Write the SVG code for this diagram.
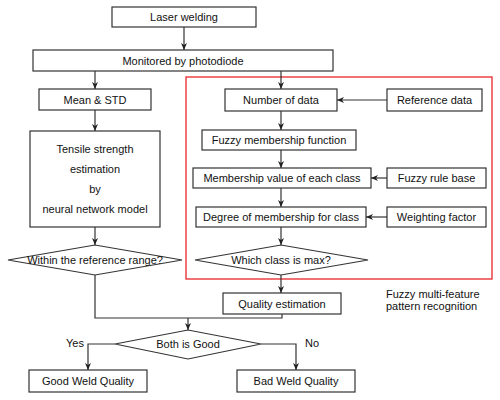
<svg xmlns="http://www.w3.org/2000/svg" width="500" height="400" viewBox="0 0 500 400">
<defs>
<marker id="ah" markerWidth="8" markerHeight="8" refX="7" refY="4" orient="auto" markerUnits="userSpaceOnUse">
<path d="M0,1 L7,4 L0,7 L2,4 Z" fill="#222"/>
</marker>
<style>
.b{fill:#fff;stroke:#333;stroke-width:1.2}
.t{font-family:"Liberation Sans",Arial,sans-serif;font-size:11px;fill:#111;text-anchor:middle}
.l{fill:none;stroke:#333;stroke-width:1.2}
.a{fill:none;stroke:#333;stroke-width:1.2;marker-end:url(#ah)}
</style>
</defs>
<rect width="500" height="400" fill="#fff"/>
<rect x="186" y="77" width="306" height="202" fill="none" stroke="#e8262a" stroke-width="1.3"/>
<g id="connectors">
<line class="a" x1="184" y1="27" x2="184" y2="50"/>
<line class="a" x1="95" y1="71" x2="95" y2="89"/>
<line class="a" x1="95" y1="110" x2="95" y2="131"/>
<line class="a" x1="95" y1="227" x2="95" y2="245"/>
<line class="a" x1="281" y1="71" x2="281" y2="89"/>
<line class="a" x1="387" y1="100" x2="337" y2="100"/>
<line class="a" x1="281" y1="111" x2="281" y2="130"/>
<line class="a" x1="281" y1="150" x2="281" y2="168"/>
<line class="a" x1="387" y1="178" x2="371" y2="178"/>
<line class="a" x1="281" y1="188" x2="281" y2="207"/>
<line class="a" x1="387" y1="217" x2="366" y2="217"/>
<line class="a" x1="281" y1="227" x2="281" y2="245"/>
<line class="a" x1="281" y1="275" x2="281" y2="293"/>
<polyline class="l" points="95,275 95,318 282,318 282,314"/>
<line class="a" x1="188" y1="318" x2="188" y2="330"/>
<polyline class="a" points="115,344 88,344 88,370"/>
<polyline class="a" points="261,344 296,344 296,370"/>
</g>
<g id="laser"><rect class="b" x="112" y="7" width="144" height="20"/><text class="t" x="184" y="21">Laser welding</text></g>
<g id="monitored"><rect class="b" x="33" y="50" width="300" height="21"/><text class="t" x="183" y="64.5">Monitored by photodiode</text></g>
<g id="mean"><rect class="b" x="39" y="89" width="112" height="21"/><text class="t" x="95" y="103.5">Mean &amp; STD</text></g>
<g id="tensile"><rect class="b" x="30" y="131" width="130" height="96"/>
<text class="t" x="95" y="153">Tensile strength</text>
<text class="t" x="95" y="173">estimation</text>
<text class="t" x="95" y="193">by</text>
<text class="t" x="95" y="213">neural network model</text></g>
<g id="within"><polygon class="b" points="8,260 95,245 182,260 95,275"/><text class="t" x="95" y="264">Within the reference range?</text></g>
<g id="number"><rect class="b" x="225" y="89" width="112" height="22"/><text class="t" x="281" y="104">Number of data</text></g>
<g id="reference"><rect class="b" x="387" y="89" width="95" height="22"/><text class="t" x="434.5" y="104">Reference data</text></g>
<g id="fuzzymf"><rect class="b" x="202" y="130" width="154" height="20"/><text class="t" x="279" y="144">Fuzzy membership function</text></g>
<g id="memval"><rect class="b" x="193" y="168" width="178" height="20"/><text class="t" x="282" y="182">Membership value of each class</text></g>
<g id="rulebase"><rect class="b" x="387" y="168" width="99" height="20"/><text class="t" x="436.5" y="182">Fuzzy rule base</text></g>
<g id="degree"><rect class="b" x="196" y="207" width="170" height="20"/><text class="t" x="281" y="221">Degree of membership for class</text></g>
<g id="weighting"><rect class="b" x="387" y="207" width="99" height="20"/><text class="t" x="436.5" y="221">Weighting factor</text></g>
<g id="whichmax"><polygon class="b" points="195,260 281,245 368,260 281,275"/><text class="t" x="281" y="264">Which class is max?</text></g>
<g id="quality"><rect class="b" x="223" y="293" width="118" height="21"/><text class="t" x="282" y="307.5">Quality estimation</text></g>
<g id="fuzzylabel"><text class="t" x="386" y="298" style="text-anchor:start">Fuzzy multi-feature</text><text class="t" x="386" y="310" style="text-anchor:start">pattern recognition</text></g>
<g id="both"><polygon class="b" points="115,344 188,330 261,344 188,359"/><text class="t" x="188" y="348">Both is Good</text></g>
<text class="t" x="75" y="347">Yes</text>
<text class="t" x="312" y="347">No</text>
<g id="good"><rect class="b" x="29" y="370" width="118" height="22"/><text class="t" x="88" y="385">Good Weld Quality</text></g>
<g id="bad"><rect class="b" x="237" y="370" width="118" height="22"/><text class="t" x="296" y="385">Bad Weld Quality</text></g>
</svg>
